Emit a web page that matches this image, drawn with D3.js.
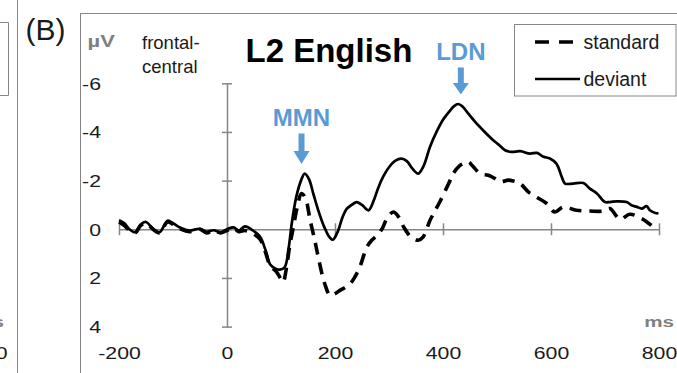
<!DOCTYPE html>
<html>
<head>
<meta charset="utf-8">
<script src="https://cdn.jsdelivr.net/npm/d3@7"></script>
<style>
  html, body { margin: 0; padding: 0; background: #fff; }
  svg { display: block; font-family: "Liberation Sans", Arial, sans-serif; }
</style>
</head>
<body>
<svg id="chart" width="677" height="373"></svg>
<script>
// ERP waveforms at the frontal-central site, L2 English listeners
const deviantMs = [-200,-190,-183,-170,-160,-150,-137,-125,-110,-100,-85,-70,-50,-38,-25,-12,0,12,22,33,45,61,72,80,90,98,107,114,120,128,137,144,152,160,169,180,189,196,205,214,222,231,240,250,262,272,280,289,300,312,323,333,343,354,364,376,388,400,412,420,428,436,447,460,475,493,502,515,527,543,561,574,586,598,610,620,626,641,660,672,685,700,709,722,740,749,759,768,777,783,793,799];
const deviantUv = [-0.37,-0.25,-0.05,0.12,-0.2,-0.3,-0.02,0.12,-0.35,-0.25,-0.05,0.05,-0.02,0.1,0.04,0.12,0.0,-0.08,0.05,-0.12,0.0,0.3,0.9,1.45,1.62,1.66,1.55,0.8,-0.25,-1.3,-2.0,-2.29,-2.05,-1.45,-0.78,-0.1,0.3,0.43,0.1,-0.5,-0.85,-1.0,-1.12,-1.0,-0.78,-1.2,-1.7,-2.15,-2.55,-2.82,-2.9,-2.8,-2.5,-2.29,-2.6,-3.39,-4.0,-4.5,-4.85,-5.05,-5.15,-5.05,-4.75,-4.4,-4.05,-3.66,-3.5,-3.25,-3.18,-3.21,-3.11,-3.14,-2.98,-2.91,-2.7,-2.15,-1.88,-1.88,-1.9,-1.67,-1.47,-1.12,-1.12,-1.15,-1.12,-0.99,-0.92,-0.85,-0.95,-0.78,-0.67,-0.65];

const standardMs = [-200,-190,-183,-170,-160,-150,-137,-125,-110,-100,-85,-70,-50,-38,-25,-12,0,12,22,33,45,61,72,80,92,100,104,110,116,123,130,138,145,154,162,169,181,191,200,209,218,228,237,246,259,268,278,288,296,308,318,327,340,354,363,376,385,394,413,419,430,440,447,455,469,484,495,506,521,532,543,558,575,592,607,623,647,672,697,709,728,746,768,786];
const standardUv = [-0.3,-0.15,0.0,0.15,-0.15,-0.25,0.0,0.15,-0.3,-0.2,0.0,0.1,0.0,0.15,0.05,0.15,0.05,-0.05,0.1,0.05,0.15,0.4,1.0,1.5,1.76,2.05,2.17,1.6,0.7,-0.1,-0.9,-1.47,-1.3,-0.37,0.4,1.14,2.24,2.72,2.65,2.51,2.4,2.24,1.95,1.55,0.73,0.45,0.25,-0.05,-0.44,-0.71,-0.5,-0.1,0.3,0.45,0.32,-0.37,-0.75,-1.12,-2.0,-2.29,-2.6,-2.72,-2.77,-2.6,-2.29,-2.22,-2.1,-1.95,-2.02,-1.97,-1.88,-1.54,-1.3,-1.06,-0.71,-0.92,-0.78,-0.75,-0.75,-0.85,-0.41,-0.62,-0.44,-0.16];

const xTicks = [-200, 0, 200, 400, 600, 800];
const yTicks = [-6, -4, -2, 0, 2, 4];
const seriesNames = ["standard", "deviant"];
const components = [
  { name: "MMN", ms: 138, uv: -2.29 },
  { name: "LDN", ms: 433, uv: -5.15 }
];

const svg = d3.select("#chart");
const grey = "#868686";
const blue = "#5b9bd5";
const ink = "#1a1a1a";
const stretch = 1.33;

const x = d3.scaleLinear().domain([-200, 800]).range([119, 659]);
const y = d3.scaleLinear().domain([-6, 4]).range([83.3, 326.6]);

// neighbouring panel (A) edge
svg.append("line").attr("x1", 17.5).attr("x2", 17.5).attr("y1", 0).attr("y2", 373)
  .attr("stroke", grey).attr("stroke-width", 1);
svg.append("path").attr("d", "M0,22.5H8.5V95.5H0").attr("fill", "none")
  .attr("stroke", grey).attr("stroke-width", 1);
svg.append("text").attr("transform", `translate(4,327) scale(${stretch},1)`)
  .attr("text-anchor", "end").attr("font-size", 15.5).attr("font-weight", "bold")
  .attr("fill", "#7f7f7f").text("ms");
svg.append("text").attr("transform", `translate(7.5,359) scale(${stretch},1)`)
  .attr("text-anchor", "end").attr("font-size", 16).attr("fill", ink).text("800");

// panel frame
svg.append("rect").attr("x", 80.5).attr("y", 13.5).attr("width", 700).attr("height", 400)
  .attr("fill", "none").attr("stroke", grey).attr("stroke-width", 1);

svg.append("text").attr("x", 25.5).attr("y", 40).attr("font-size", 30).attr("fill", ink).text("(B)");

// x axis
const xAxis = d3.axisBottom(x).tickValues(xTicks).tickSizeOuter(0).tickFormat(d => String(d));
const gx = svg.append("g").attr("transform", `translate(0,${y(0)})`).call(xAxis);
gx.select(".domain").attr("stroke", grey).attr("stroke-width", 1.5);
gx.selectAll(".tick line").attr("y1", -6).attr("y2", 6).attr("stroke", grey).attr("stroke-width", 1.5);
gx.selectAll(".tick text").attr("y", null).attr("dy", null)
  .attr("transform", `translate(0,${359 - y(0)}) scale(${stretch},1)`)
  .attr("font-size", 16).attr("font-family", null).attr("fill", ink);

// y axis
const yAxis = d3.axisLeft(y).tickValues(yTicks).tickSizeOuter(0).tickFormat(d => String(d));
const gy = svg.append("g").attr("transform", `translate(${x(0)},0)`).call(yAxis);
gy.select(".domain").attr("stroke", grey).attr("stroke-width", 1.5);
gy.selectAll(".tick line").attr("x1", -5).attr("x2", 5).attr("stroke", grey).attr("stroke-width", 1.5);
gy.selectAll(".tick text").attr("x", null).attr("dy", null).attr("y", 6)
  .attr("transform", `translate(${101 - x(0)},0) scale(${stretch},1)`)
  .attr("text-anchor", "end").attr("font-size", 16).attr("font-family", null).attr("fill", ink);

// axis titles and site label
svg.append("text").attr("transform", `translate(87.5,46.5) scale(${stretch},1)`)
  .attr("font-size", 16.5).attr("font-weight", "bold").attr("fill", "#7f7f7f").text("µV");
svg.append("text").attr("transform", `translate(674,327) scale(${stretch},1)`)
  .attr("text-anchor", "end").attr("font-size", 15.5).attr("font-weight", "bold")
  .attr("fill", "#7f7f7f").text("ms");
svg.append("text").attr("x", 142).attr("y", 49).attr("font-size", 18.5).attr("fill", ink).text("frontal-");
svg.append("text").attr("x", 142).attr("y", 72.5).attr("font-size", 18.5).attr("fill", ink).text("central");

svg.append("text").attr("x", 245.5).attr("y", 62.3).attr("font-size", 33).attr("font-weight", "bold")
  .attr("fill", "#000").text("L2 English");

// waveforms
const line = d3.line().x(d => x(d[0])).y(d => y(d[1])).curve(d3.curveCatmullRom.alpha(0.5));
const standardPts = standardMs.map((t, i) => [t, standardUv[i]]);
const deviantPts = deviantMs.map((t, i) => [t, deviantUv[i]]);

svg.append("path").datum(standardPts).attr("d", line).attr("fill", "none")
  .attr("stroke", "#000").attr("stroke-width", 3.6).attr("stroke-dasharray", "12,8");
svg.append("path").datum(deviantPts).attr("d", line).attr("fill", "none")
  .attr("stroke", "#000").attr("stroke-width", 2.7).attr("stroke-linejoin", "round");

// component labels with arrows
components.forEach(c => {
  const ax = x(c.ms);
  const tip = y(c.uv) - 9.5;
  const labelY = c.name === "MMN" ? tip - 38 : tip - 34.5;
  svg.append("text").attr("x", ax).attr("y", labelY).attr("text-anchor", "middle")
    .attr("font-size", 24).attr("font-weight", "bold").attr("fill", blue).text(c.name);
  const headH = c.name === "MMN" ? 13 : 11.5;
  const shaftTop = labelY + 7.5;
  svg.append("path")
    .attr("d", `M${ax - 3},${shaftTop}H${ax + 3}V${tip - headH}H${ax + 8}L${ax},${tip}L${ax - 8},${tip - headH}H${ax - 3}Z`)
    .attr("fill", blue);
});

// legend
const lg = svg.append("g");
lg.append("rect").attr("x", 514.5).attr("y", 24.5).attr("width", 161.5).attr("height", 71.5)
  .attr("fill", "#fff").attr("stroke", grey).attr("stroke-width", 1);
const legendRows = [{ y: 42, dash: "14,10", w: 3.6 }, { y: 79, dash: null, w: 2.7 }];
seriesNames.forEach((name, i) => {
  const r = legendRows[i];
  lg.append("line").attr("x1", 535).attr("x2", i === 0 ? 573 : 580).attr("y1", r.y).attr("y2", r.y)
    .attr("stroke", "#000").attr("stroke-width", r.w).attr("stroke-dasharray", r.dash);
  lg.append("text").attr("x", 583.5).attr("y", r.y + 7).attr("font-size", 19.5).attr("fill", ink).text(name);
});
</script>
</body>
</html>
